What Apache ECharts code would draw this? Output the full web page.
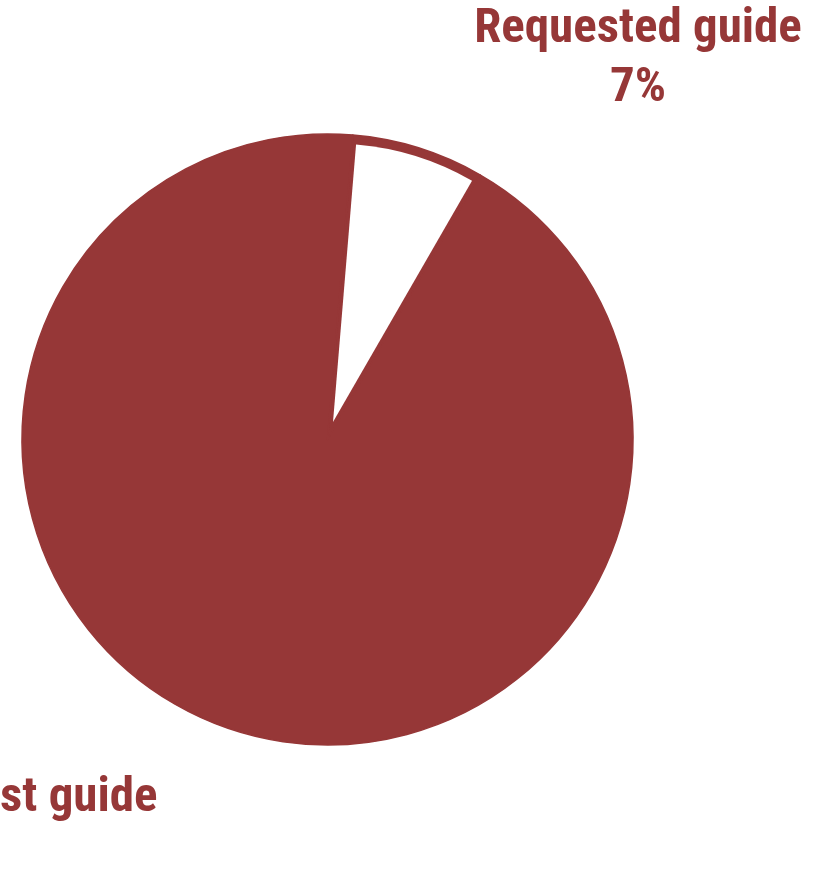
<!DOCTYPE html>
<html>
<head>
<meta charset="utf-8">
<style>
  html, body { margin: 0; padding: 0; background: #ffffff; }
  #chart { width: 833px; height: 876px; }
</style>
<script src="https://cdn.jsdelivr.net/npm/echarts@6/dist/echarts.min.js"></script>
</head>
<body>
<div id="chart"></div>
<script>
// Survey responses: share of respondents who requested the guide
const categories = ['Requested guide', 'Did not request guide'];
const shares = [7, 93];

const RED = '#963737';
const LABEL_FONT = "'Liberation Sans Narrow', 'Arial Narrow', 'Roboto Condensed', 'DejaVu Sans Condensed', sans-serif";

// label anchor points (centre of each two-line label)
const labelAnchors = [
  { x: 638, y: 59 },
  { x: -52, y: 828 }
];

const chart = echarts.init(document.getElementById('chart'), null, { renderer: 'canvas' });

const baseData = categories.map((name, i) => ({ name, value: shares[i] }));

chart.setOption({
  animation: false,
  backgroundColor: '#ffffff',
  series: [
    {
      // full disc with the category labels
      type: 'pie',
      center: [327.5, 439.5],
      radius: 305.5,
      startAngle: 85.25,
      clockwise: true,
      silent: true,
      itemStyle: { color: RED, borderColor: RED, borderWidth: 1.5 },
      label: {
        show: true,
        position: 'outside',
        color: RED,
        fontFamily: LABEL_FONT,
        fontWeight: 'bold',
        fontSize: 49,
        lineHeight: 59,
        align: 'center',
        overflow: 'none',
        width: 600,
        formatter: p => p.name + '\n' + Math.round(p.percent) + '%'
      },
      labelLine: { show: false },
      labelLayout: p => ({
        x: labelAnchors[p.dataIndex].x,
        y: labelAnchors[p.dataIndex].y,
        align: 'center',
        verticalAlign: 'middle'
      }),
      data: baseData
    },
    {
      // the "requested" wedge, pulled out and drawn in white
      type: 'pie',
      center: [333, 422],
      radius: 278.5,
      startAngle: 85.25,
      clockwise: true,
      silent: true,
      label: { show: false },
      labelLine: { show: false },
      data: categories.map((name, i) => ({
        name,
        value: shares[i],
        itemStyle: i === 0
          ? { color: '#ffffff', borderWidth: 0 }
          : { color: 'rgba(0,0,0,0)', borderWidth: 0 }
      }))
    }
  ]
});
</script>
</body>
</html>
